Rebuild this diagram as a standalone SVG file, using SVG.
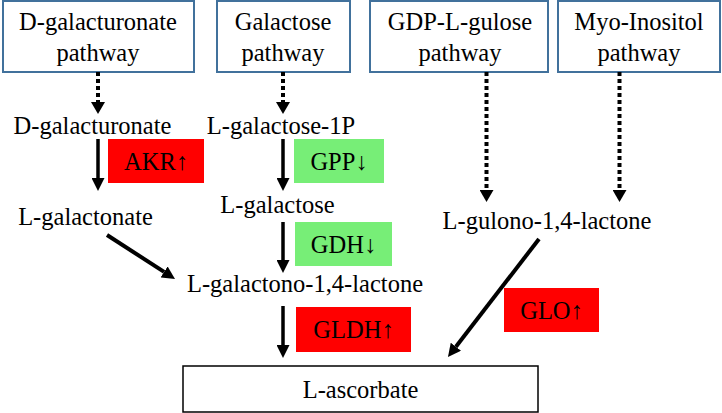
<svg xmlns="http://www.w3.org/2000/svg" width="722" height="413" viewBox="0 0 722 413">
<defs>
<style>
text{font-family:"Liberation Serif","Times New Roman",serif;font-size:24.5px;fill:#000;text-anchor:middle}
.pw{fill:#fff;stroke:#41719C;stroke-width:2}
.red{fill:#FF0000}
.green{fill:#77EE77}
.dot{stroke:#000;stroke-width:4;stroke-dasharray:4 3;fill:none}
.sol{stroke:#000;stroke-width:3.5;fill:none}
.diag{stroke:#000;stroke-width:4;fill:none}
</style>
<marker id="hd" markerUnits="userSpaceOnUse" markerWidth="12" markerHeight="14" viewBox="0 0 12 14" refX="0" refY="7" orient="auto">
<path d="M0,0 L12,7 L0,14 z" fill="#000"/>
</marker>
<marker id="hs" markerUnits="userSpaceOnUse" markerWidth="13" markerHeight="13" viewBox="0 0 13 13" refX="0" refY="6.5" orient="auto">
<path d="M0,0 L13,6.5 L0,13 z" fill="#000"/>
</marker>
</defs>
<rect width="722" height="413" fill="#fff"/>
<g id="n-dgal-pathway"><rect class="pw" x="3" y="1" width="191" height="71"/><text x="98" y="30">D-galacturonate</text><text x="98" y="61">pathway</text></g>
<g id="n-gal-pathway"><rect class="pw" x="217" y="1" width="133" height="71"/><text x="283" y="30">Galactose</text><text x="283" y="61">pathway</text></g>
<g id="n-gdp-pathway"><rect class="pw" x="370" y="1" width="178" height="71"/><text x="460" y="30">GDP-L-gulose</text><text x="460" y="61">pathway</text></g>
<g id="n-myo-pathway"><rect class="pw" x="558" y="1" width="162" height="71"/><text x="639" y="30">Myo-Inositol</text><text x="639" y="61">pathway</text></g>
<g id="n-dgalacturonate"><text x="92.5" y="134">D-galacturonate</text></g>
<g id="n-lgal1p"><text x="281" y="134">L-galactose-1P</text></g>
<g id="n-lgalactonate"><text x="85.5" y="225">L-galactonate</text></g>
<g id="n-lgalactose"><text x="277.5" y="213">L-galactose</text></g>
<g id="n-lgalactono"><text x="305" y="292">L-galactono-1,4-lactone</text></g>
<g id="n-lgulono"><text x="547" y="229">L-gulono-1,4-lactone</text></g>
<g id="n-ascorbate"><rect x="183" y="366" width="355" height="46" fill="#fff" stroke="#000" stroke-width="1.5"/><text x="360.5" y="398">L-ascorbate</text></g>
<g id="n-akr"><rect class="red" x="108" y="139" width="96" height="44"/><text x="156" y="170">AKR↑</text></g>
<g id="n-gpp"><rect class="green" x="294" y="139" width="90" height="44"/><text x="339" y="170">GPP↓</text></g>
<g id="n-gdh"><rect class="green" x="295" y="222" width="97" height="44"/><text x="343.5" y="253">GDH↓</text></g>
<g id="n-gldh"><rect class="red" x="296" y="307" width="115" height="45"/><text x="353.5" y="338">GLDH↑</text></g>
<g id="n-glo"><rect class="red" x="504" y="288" width="95" height="44"/><text x="551.5" y="319">GLO↑</text></g>
<g id="connectors">
<line class="dot" x1="98" y1="72" x2="98" y2="102" marker-end="url(#hd)"/>
<line class="dot" x1="283" y1="72" x2="283" y2="102" marker-end="url(#hd)"/>
<line class="dot" x1="486.5" y1="72" x2="486.5" y2="190" marker-end="url(#hd)"/>
<line class="dot" x1="619.5" y1="72" x2="619.5" y2="190" marker-end="url(#hd)"/>
<line class="sol" x1="98" y1="139" x2="98" y2="178" marker-end="url(#hs)"/>
<line class="sol" x1="283" y1="139" x2="283" y2="178" marker-end="url(#hs)"/>
<line class="sol" x1="283" y1="222" x2="283" y2="260" marker-end="url(#hs)"/>
<line class="sol" x1="283" y1="306" x2="283" y2="345" marker-end="url(#hs)"/>
<line class="diag" x1="107" y1="235" x2="164.1" y2="271.9" marker-end="url(#hs)"/>
<line class="diag" x1="539" y1="239" x2="455.9" y2="346.7" marker-end="url(#hs)"/>
</g>
</svg>
